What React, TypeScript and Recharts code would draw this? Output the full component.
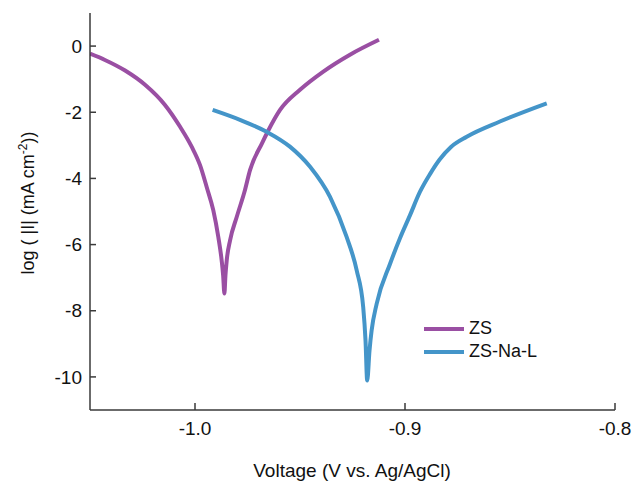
import { Line, LineChart, XAxis, YAxis } from "recharts";

// Tafel curves, potential (V vs. Ag/AgCl) against log|I|
const zsVoltage = [
  -1.05, -1.0429, -1.0333, -1.0238, -1.0143, -1.0071, -1.0016, -0.9976, -0.9943, -0.9913,
  -0.9889, -0.9873, -0.9866, -0.986, -0.9855, -0.9849, -0.9833, -0.9801, -0.9762, -0.9738,
  -0.9681, -0.9654, -0.9595, -0.95, -0.9389, -0.9262, -0.9124,
];
const zsLogI = [
  -0.23, -0.42, -0.74, -1.17, -1.78, -2.44, -3.04, -3.6, -4.29, -4.96,
  -5.77, -6.48, -6.93, -7.48, -6.93, -6.48, -5.87, -5.16, -4.35, -3.75,
  -2.94, -2.59, -1.93, -1.32, -0.77, -0.26, 0.19,
];

const naVoltage = [
  -0.9916, -0.9786, -0.9659, -0.9548, -0.9452, -0.9357, -0.9278, -0.923, -0.9199, -0.9188,
  -0.918, -0.9169, -0.9159, -0.9135, -0.9071, -0.9024, -0.8976, -0.8929, -0.8881, -0.8835,
  -0.8781, -0.8706, -0.8548, -0.8325,
];
const naLogI = [
  -1.93, -2.23, -2.59, -3.04, -3.65, -4.56, -5.77, -6.78, -7.89, -8.9,
  -10.11, -9.2, -8.6, -7.79, -6.58, -5.81, -5.11, -4.41, -3.87, -3.43,
  -3.05, -2.74, -2.28, -1.73,
];

const xTicks = [-1.0, -0.9, -0.8];
const yTicks = [0, -2, -4, -6, -8, -10];

const seriesNames = ["ZS", "ZS-Na-L"];
const seriesColors = ["#9a4fa3", "#4495c9"];

const zsData = zsVoltage.map((v, i) => ({ v, logI: zsLogI[i] }));
const naData = naVoltage.map((v, i) => ({ v, logI: naLogI[i] }));

const FONT = "'Liberation Sans', Arial, Helvetica, sans-serif";
const AXIS = "#3a3a3a";

const YTick = (props: any) => {
  const { x, y, payload } = props;
  return (
    <g>
      <line x1={x + 8} x2={x + 14} y1={y} y2={y} stroke={AXIS} strokeWidth={1.5} />
      <text x={x} y={y} dy="0.35em" textAnchor="end" fontSize={19} fill="#111" fontFamily={FONT}>
        {payload.value}
      </text>
    </g>
  );
};

const XTick = (props: any) => {
  const { x, y, payload } = props;
  return (
    <g>
      <line x1={x} x2={x} y1={y} y2={y - 7} stroke={AXIS} strokeWidth={1.5} />
      <text x={x} y={y + 25} textAnchor="middle" fontSize={19} fill="#111" fontFamily={FONT}>
        {payload.value.toFixed(1)}
      </text>
    </g>
  );
};

// legend sits inside the plot, lower right
const LegendBox = () => (
  <div
    style={{
      position: "absolute",
      left: 424,
      top: 317,
      fontFamily: FONT,
      fontSize: 18,
      color: "#111",
      lineHeight: "23px",
    }}
  >
    {seriesNames.map((name, i) => (
      <div key={name} style={{ display: "flex", alignItems: "center" }}>
        <span style={{ display: "inline-block", width: 40, height: 4, background: seriesColors[i], marginRight: 5 }} />
        <span>{name}</span>
      </div>
    ))}
  </div>
);

export default function App() {
  return (
    <div style={{ position: "absolute", left: 0, top: 0, width: 635, height: 484, background: "#fff" }}>
      <LineChart width={635} height={484} margin={{ top: 13, right: 20, left: 30, bottom: 24 }}>
        <XAxis
          type="number"
          dataKey="v"
          domain={[-1.05, -0.8]}
          ticks={xTicks}
          allowDataOverflow
          height={50}
          stroke={AXIS}
          strokeWidth={1.5}
          tickLine={false}
          tickSize={0}
          tickMargin={0}
          tick={<XTick />}
          label={{
            content: () => (
              <text x={352} y={477} textAnchor="middle" fontFamily={FONT} fontSize={19} fill="#111">
                Voltage (V vs. Ag/AgCl)
              </text>
            ),
          }}
        />
        <YAxis
          type="number"
          dataKey="logI"
          domain={[-11, 1]}
          ticks={yTicks}
          allowDataOverflow
          width={60}
          stroke={AXIS}
          strokeWidth={1.5}
          tickLine={false}
          tickSize={0}
          tickMargin={8}
          tick={<YTick />}
          label={{
            content: () => (
              <text
                x={28}
                y={203}
                transform="rotate(-90 28 203)"
                textAnchor="middle"
                dy="0.35em"
                fontFamily={FONT}
                fontSize={18}
                fill="#111"
              >
                log ( |I| (mA cm
                <tspan dy={-7} fontSize={12}>-2</tspan>
                <tspan dy={7}>))</tspan>
              </text>
            ),
          }}
        />
        <Line
          data={zsData}
          dataKey="logI"
          name={seriesNames[0]}
          type="monotone"
          stroke={seriesColors[0]}
          strokeWidth={4}
          dot={false}
          isAnimationActive={false}
        />
        <Line
          data={naData}
          dataKey="logI"
          name={seriesNames[1]}
          type="monotone"
          stroke={seriesColors[1]}
          strokeWidth={4}
          dot={false}
          isAnimationActive={false}
        />
      </LineChart>
      <LegendBox />
    </div>
  );
}
